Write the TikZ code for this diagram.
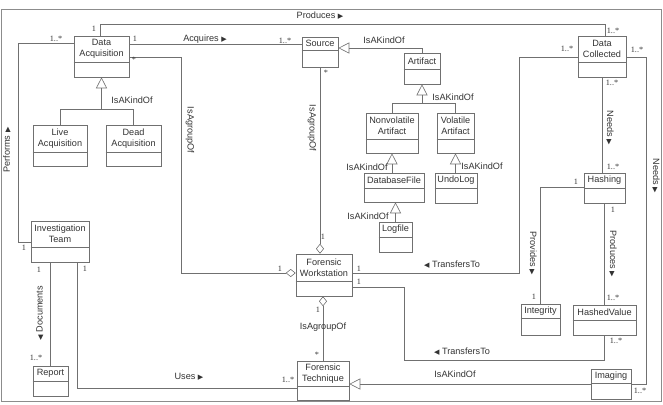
\documentclass[tikz,border=0pt]{standalone}
\usepackage{fontspec}
\setmainfont{Liberation Sans}
\newfontfamily\multfont{Liberation Serif}
\newfontfamily\symfont{DejaVu Sans}
\usetikzlibrary{arrows.meta,fit,calc}
\definecolor{linegray}{HTML}{707070}
\definecolor{textgray}{HTML}{333333}
\definecolor{framegray}{HTML}{8C8C8C}
\newcommand{\rtri}{{\symfont\fontsize{6}{6}\selectfont ▶}}
\newcommand{\ltri}{{\symfont\fontsize{6}{6}\selectfont ◀}}
\tikzset{
  assoc/.style={draw=linegray, line width=0.5pt},
  classbox/.style={assoc, inner sep=0pt, fill=white},
  classname/.style={text=textgray, font=\fontsize{7.8}{9.2}\selectfont, align=center, inner sep=0pt},
  mult/.style={text=textgray, font=\multfont\fontsize{7}{7}\selectfont, inner sep=0pt},
  role/.style={text=textgray, font=\fontsize{7.8}{9}\selectfont, inner sep=0pt},
  isa/.style={assoc, -{Triangle[open, length=3.3mm, width=3.3mm]}},
  agg/.style={assoc, -{Diamond[open, length=3mm, width=2.4mm]}},
}
\newcommand{\umlclass}[5]{%
  \node[classbox, fit={(#2) (#3)}] (#1) {};
  \draw[assoc] (#1.west |- 0,#4) -- (#1.east |- 0,#4);
  \node[classname] (#1-name) at ($(#1.north)!0.5!(#1.north |- 0,#4)$) {#5};
}
\begin{document}
\begin{tikzpicture}[x=0.3mm, y=-0.3mm]
\useasboundingbox (0,0) rectangle (663,404);
\draw[framegray, line width=0.6pt] (1,9) rectangle (661,401);
% classes
\umlclass{da}{74,36}{129,77}{62}{Data\\Acquisition}
\umlclass{live}{33,125}{87,166}{152}{Live\\Acquisition}
\umlclass{dead}{106,125}{161,166}{152}{Dead\\Acquisition}
\umlclass{it}{31,221}{89,262}{247}{Investigation\\Team}
\umlclass{report}{33,366}{68,396}{381}{Report}
\umlclass{source}{302,37}{338,67}{50}{Source}
\umlclass{artifact}{404,53}{440,84}{69}{Artifact}
\umlclass{nva}{366,113}{418,153}{139}{Nonvolatile\\Artifact}
\umlclass{va}{437,113}{474,153}{139}{Volatile\\Artifact}
\umlclass{dbf}{364,173}{424,202}{188}{DatabaseFile}
\umlclass{undo}{435,173}{477,203}{188}{UndoLog}
\umlclass{logfile}{379,222}{412,252}{237}{Logfile}
\umlclass{fw}{296,254}{352,296}{281}{Forensic\\Workstation}
\umlclass{ft}{297,361}{349,400}{386}{Forensic\\Technique}
\umlclass{dc}{578,36}{626,77}{62}{Data\\Collected}
\umlclass{hashing}{584,173}{625,203}{188}{Hashing}
\umlclass{integrity}{521,304}{560,335}{318}{Integrity}
\umlclass{hv}{573,305}{636,335}{320}{HashedValue}
\umlclass{imaging}{591,369}{631,399}{383}{Imaging}
% associations
\draw[assoc] (da.west |- 0,43) -| (18,242) -- (it.west |- 0,242);
\draw[assoc] (da.north -| 100,0) |- (605,24) -- (dc.north -| 605,0);
\draw[assoc] (da.east |- 0,44) -- (source.west |- 0,44);
\draw[agg] (da.east |- 0,57) -| (181,273) -- (fw.west |- 0,273);
\draw[agg] (source.south) -- (source.south |- fw.north);
\draw[assoc] (dc.west |- 0,57) -| (519,273) -- (fw.east |- 0,273);
\draw[assoc] (dc.south) -- (dc.south |- hashing.north);
\draw[assoc] (dc.east |- 0,57) -| (646,384) -- (imaging.east |- 0,384);
\draw[assoc] (hashing.west |- 0,187) -| (integrity.north);
\draw[assoc] (hashing.south) -- (hashing.south |- hv.north);
\draw[assoc] (hv.south) |- (404,360) |- (fw.east |- 0,287);
\draw[agg] (ft.north) -- (ft.north |- fw.south);
\draw[assoc] (it.south -| 77,0) |- (ft.west |- 0,388);
\draw[assoc] (report.north) -- (report.north |- it.south);
% generalizations
\draw[isa] (live.north) |- (da.south |- 0,109) -- (da.south);
\draw[assoc] (dead.north) |- (da.south |- 0,109);
\draw[isa] (artifact.north) |- (source.east |- 0,48);
\draw[isa] (nva.north) |- (artifact.south |- 0,103) -- (artifact.south);
\draw[assoc] (va.north) |- (artifact.south |- 0,103);
\draw[isa] (nva.south |- dbf.north) -- (nva.south);
\draw[isa] (va.south |- undo.north) -- (va.south);
\draw[isa] (logfile.north) -- (logfile.north |- dbf.south);
\draw[isa] (imaging.west |- 0,384) -- (ft.east |- 0,384);
% multiplicities
\node[mult] (m-da-perf) at (56,39) {1..*};
\node[mult] (m-da-prod) at (94,29) {1};
\node[mult] (m-da-acq) at (135,39) {1};
\node[mult] (m-src-acq) at (285,41) {1..*};
\node[mult] (m-da-grp) at (134,60) {*};
\node[mult] (m-fw-grp) at (280,269) {1};
\node[mult] (m-src-grp) at (326,73) {*};
\node[mult] (m-fw-top) at (323,237) {1};
\node[mult] (m-dc-prod) at (613,31) {1..*};
\node[mult] (m-dc-trf) at (567,49) {1..*};
\node[mult] (m-dc-img) at (637,50) {1..*};
\node[mult] (m-dc-hash) at (612,83) {1..*};
\node[mult] (m-hash-top) at (613,167) {1..*};
\node[mult] (m-hash-prov) at (576,182) {1};
\node[mult] (m-hash-prod) at (613,210) {1};
\node[mult] (m-int-top) at (534,297) {1};
\node[mult] (m-hv-top) at (613,298) {1..*};
\node[mult] (m-hv-bot) at (616,341) {1..*};
\node[mult] (m-img-need) at (640,391) {1..*};
\node[mult] (m-fw-trf1) at (359,269) {1};
\node[mult] (m-fw-trf2) at (359,282) {1};
\node[mult] (m-fw-bot) at (318,310) {1};
\node[mult] (m-ft-top) at (317,355) {*};
\node[mult] (m-ft-uses) at (288,380) {1..*};
\node[mult] (m-it-perf) at (24,248) {1};
\node[mult] (m-it-doc) at (39,270) {1};
\node[mult] (m-it-uses) at (85,269) {1};
\node[mult] (m-rep-doc) at (36,358) {1..*};
% association names
\node[role] (r-produces) at (320,16) {Produces \rtri};
\node[role] (r-acquires) at (205,39) {Acquires \rtri};
\node[role] (r-kind-da) at (132,100) {IsAKindOf};
\node[role, rotate=90] (r-performs) at (7,150) {Performs \rtri};
\node[role, rotate=-90] (r-grp-da) at (190,130) {IsAgroupOf};
\node[role] (r-kind-src) at (384,40) {IsAKindOf};
\node[role, rotate=-90] (r-grp-src) at (312,128) {IsAgroupOf};
\node[role] (r-kind-art) at (453,97) {IsAKindOf};
\node[role] (r-kind-nva) at (367,167) {IsAKindOf};
\node[role] (r-kind-va) at (482,166) {IsAKindOf};
\node[role] (r-kind-dbf) at (368,216) {IsAKindOf};
\node[role, rotate=-90] (r-needs1) at (610,128) {Needs \rtri};
\node[role, rotate=-90] (r-needs2) at (656,176) {Needs \rtri};
\node[role, rotate=-90] (r-provides) at (533,253) {Provides \rtri};
\node[role, rotate=-90] (r-produces2) at (613,254) {Produces \rtri};
\node[role] (r-trf1) at (452,265) {\ltri\ TransfersTo};
\node[role] (r-trf2) at (462,352) {\ltri\ TransfersTo};
\node[role] (r-grp-ft) at (323,327) {IsAgroupOf};
\node[role] (r-kind-img) at (455,374) {IsAKindOf};
\node[role] (r-uses) at (189,377) {Uses \rtri};
\node[role, rotate=90] (r-documents) at (40,313) {\ltri\ Documents};
\end{tikzpicture}
\end{document}
